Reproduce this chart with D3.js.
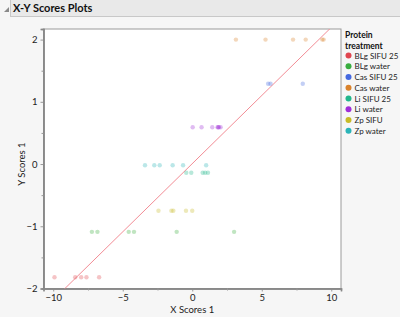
<!DOCTYPE html>
<html>
<head>
<meta charset="utf-8">
<script src="https://cdn.jsdelivr.net/npm/d3@7"></script>
<style>
  body { margin: 0; background: #f6f6f6; font-family: Lato, "DejaVu Sans", sans-serif; }
  svg { display: block; }
</style>
</head>
<body>
<div id="chart"></div>
<script>
// groups in legend order
let groups = ["BLg SIFU 25", "BLg water", "Cas SIFU 25", "Cas water", "Li SIFU 25", "Li water", "Zp SIFU", "Zp water"];
let groupColors = ["#e0464f", "#3aae3f", "#4569e0", "#d9822b", "#22b68c", "#a02fd8", "#c8bb27", "#2bb4b8"];

// X score / Y score per group
let xBLgSifu = [-9.91, -8.42, -7.99, -7.61, -6.70];
let yBLgSifu = [-1.82, -1.82, -1.82, -1.82, -1.82];
let xBLgWater = [-7.22, -6.82, -4.57, -4.19, -1.12, 3.01];
let yBLgWater = [-1.09, -1.09, -1.09, -1.09, -1.09, -1.09];
let xCasSifu = [5.46, 5.63, 7.95];
let yCasSifu = [1.29, 1.29, 1.29];
let xCasWater = [3.14, 5.27, 7.25, 8.16, 9.35, 9.45];
let yCasWater = [2.0, 2.0, 2.0, 2.0, 2.0, 2.0];
let xLiSifu = [-0.43, -0.07, 0.75, 0.93, 1.13];
let yLiSifu = [-0.14, -0.14, -0.14, -0.14, -0.14];
let xLiWater = [0.03, 0.67, 1.44, 1.82, 1.87, 1.92, 2.04];
let yLiWater = [0.59, 0.59, 0.59, 0.59, 0.59, 0.59, 0.59];
let xZpSifu = [-2.43, -1.50, -1.36, -0.45, 0.0];
let yZpSifu = [-0.75, -0.75, -0.75, -0.75, -0.75];
let xZpWater = [-3.40, -2.73, -2.34, -1.41, -0.66, 1.0];
let yZpWater = [-0.02, -0.02, -0.02, -0.02, -0.02, -0.02];

let xByGroup = [xBLgSifu, xBLgWater, xCasSifu, xCasWater, xLiSifu, xLiWater, xZpSifu, xZpWater];
let yByGroup = [yBLgSifu, yBLgWater, yCasSifu, yCasWater, yLiSifu, yLiWater, yZpSifu, yZpWater];

// fit line: y = intercept + slope * x
let fitIntercept = 0.006;
let fitSlope = 0.219;

let xTicks = [-10, -5, 0, 5, 10];
let xMinor = [-7.5, -2.5, 2.5, 7.5];
let yTicks = [-2, -1, 0, 1, 2];
let yMinor = [-1.5, -0.5, 0.5, 1.5];

let points = [];
groups.forEach((g, i) => {
    xByGroup[i].forEach((xv, j) => {
        points.push({ group: g, x: xv, y: yByGroup[i][j] });
    });
});

let W = 400, H = 317;
let frame = { left: 43.5, right: 341, top: 29, bottom: 288.5 };

let svg = d3.select("#chart").append("svg")
    .attr("width", W)
    .attr("height", H);

// header bar
svg.append("rect")
    .attr("x", 10.5).attr("y", -1)
    .attr("width", W).attr("height", 17.5)
    .attr("fill", "#e9e9e9")
    .attr("stroke", "#c8c8c8");
svg.append("path")
    .attr("d", "M4,12 L9,12 L9,7 Z")
    .attr("fill", "#8a8a8a");
svg.append("text")
    .attr("x", 13).attr("y", 12)
    .style("font-size", "11px")
    .style("font-weight", "bold")
    .attr("fill", "#111")
    .text("X-Y Scores Plots");

let x = d3.scaleLinear().domain([-10.7, 10.7]).range([frame.left, frame.right]);
let y = d3.scaleLinear().domain([-2, 2.17]).range([frame.bottom, frame.top]);
let color = d3.scaleOrdinal().domain(groups).range(groupColors);

// plot background
svg.append("rect")
    .attr("x", frame.left).attr("y", frame.top)
    .attr("width", frame.right - frame.left)
    .attr("height", frame.bottom - frame.top)
    .attr("fill", "white")
    .attr("stroke", "#9a9a9a")
    .attr("stroke-width", 1);

svg.append("clipPath").attr("id", "clip")
    .append("rect")
    .attr("x", frame.left).attr("y", frame.top)
    .attr("width", frame.right - frame.left)
    .attr("height", frame.bottom - frame.top);

// axes
svg.append("g")
    .attr("transform", `translate(0,${frame.bottom})`)
    .call(d3.axisBottom(x).tickValues(xTicks).tickSize(3).tickFormat(d3.format("d")));
svg.append("g")
    .attr("transform", `translate(0,${frame.bottom})`)
    .call(d3.axisBottom(x).tickValues(xMinor).tickSize(2).tickFormat(""));
svg.append("g")
    .attr("transform", `translate(${frame.left},0)`)
    .call(d3.axisLeft(y).tickValues(yTicks).tickSize(3).tickFormat(d3.format("d")));
svg.append("g")
    .attr("transform", `translate(${frame.left},0)`)
    .call(d3.axisLeft(y).tickValues(yMinor).tickSize(2).tickFormat(""));

svg.selectAll(".domain").attr("stroke", "#888").attr("stroke-width", 1.5);
svg.selectAll(".tick line").attr("stroke", "#999");
svg.selectAll(".tick text")
    .style("font-size", "9.5px")
    .style("font-family", "Lato, sans-serif")
    .attr("fill", "#222");

// axis titles
svg.append("text")
    .attr("x", x(0)).attr("y", 313)
    .attr("text-anchor", "middle")
    .style("font-size", "9.5px")
    .attr("fill", "#222")
    .text("X Scores 1");
svg.append("text")
    .attr("transform", `translate(25,${y(0)}) rotate(-90)`)
    .attr("text-anchor", "middle")
    .style("font-size", "9.5px")
    .attr("fill", "#222")
    .text("Y Scores 1");

let plot = svg.append("g").attr("clip-path", "url(#clip)");

// fit line
let lineX = x.domain();
plot.append("line")
    .attr("x1", x(lineX[0])).attr("y1", y(fitIntercept + fitSlope * lineX[0]))
    .attr("x2", x(lineX[1])).attr("y2", y(fitIntercept + fitSlope * lineX[1]))
    .attr("stroke", "#f28c95")
    .attr("stroke-width", 1);

// points
plot.selectAll(".dot")
    .data(points)
    .enter()
    .append("circle")
    .attr("class", "dot")
    .attr("cx", d => x(d.x))
    .attr("cy", d => y(d.y))
    .attr("r", 2.2)
    .attr("fill", d => color(d.group))
    .attr("fill-opacity", 0.32);

// legend
let lg = svg.append("g").attr("transform", "translate(345,0)");
lg.append("text").attr("x", 0).attr("y", 37.5)
    .style("font-size", "8.5px").style("font-weight", "bold").attr("fill", "#111")
    .text("Protein");
lg.append("text").attr("x", 0).attr("y", 48.5)
    .style("font-size", "8.5px").style("font-weight", "bold").attr("fill", "#111")
    .text("treatment");

let item = lg.selectAll(".item")
    .data(groups)
    .enter()
    .append("g")
    .attr("class", "item")
    .attr("transform", (d, i) => `translate(0,${55.5 + i * 10.75})`);
item.append("circle")
    .attr("cx", 3.5).attr("cy", 0).attr("r", 3)
    .attr("fill", d => color(d));
item.append("text")
    .attr("x", 9.5).attr("y", 3)
    .style("font-size", "8px")
    .attr("fill", "#222")
    .text(d => d);
</script>
</body>
</html>
